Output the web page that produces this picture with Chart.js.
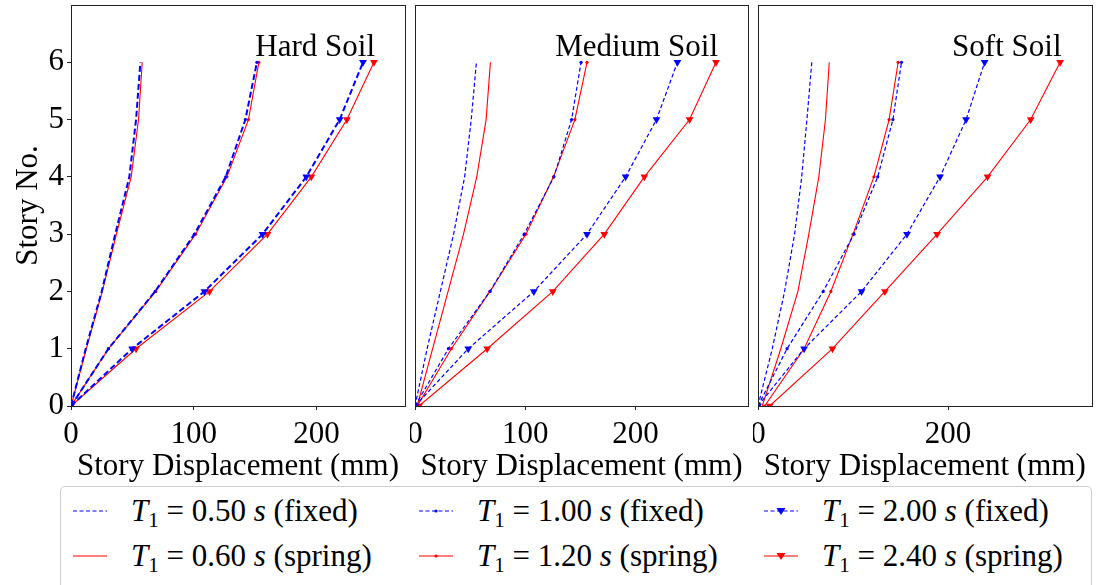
<!DOCTYPE html>
<html>
<head>
<meta charset="utf-8">
<script src="https://cdn.jsdelivr.net/npm/chart.js@4.4.0/dist/chart.umd.min.js"></script>
<style>
  body { margin: 0; background: #fff; }
  #wrap { position: relative; width: 1096px; height: 585px; overflow: hidden; font-family: "Liberation Serif", serif; color: #000; }
  #wrap canvas { position: absolute; top: 0; }
  #legend { position: absolute; left: 60px; top: 486px; width: 1030px; height: 120px; border: 1px solid #cfcfcf; border-radius: 5px; }
  .item { position: absolute; font-size: 31px; line-height: 30px; white-space: nowrap; }
  .item svg { position: absolute; top: 0; }
  .item span { position: absolute; top: 0; }
  sub { font-size: 21px; vertical-align: -6px; line-height: 0; }
</style>
</head>
<body>
<div id="wrap">
  <canvas id="hard"></canvas>
  <canvas id="medium"></canvas>
  <canvas id="soft"></canvas>
  <div id="legend"></div>
</div>
<script>
// story levels (y values)
const stories = [0, 1, 2, 3, 4, 5, 6];
const yTicks = [0, 1, 2, 3, 4, 5, 6];

// story displacement (mm), hard soil
const hardFixed050  = [0, 12, 25, 36, 47.5, 53, 56.5];
const hardSpring060 = [0, 12.5, 25.5, 37, 49, 55, 58];
const hardFixed100  = [0, 30.5, 68.5, 100.5, 126, 142, 151.4];
const hardSpring120 = [0, 30.5, 69, 101.5, 127, 144.5, 153];
const hardFixed200  = [0, 49.8, 108.7, 156, 191.6, 218.8, 237.8];
const hardSpring240 = [0, 53, 112.8, 160, 195.7, 224.7, 246.7];

// medium soil
const medFixed050  = [0, 11, 23, 35, 45, 51, 55.7];
const medSpring060 = [2, 16, 30, 44, 56, 64.5, 68.4];
const medFixed100  = [0, 30.3, 68, 99, 126, 142, 150.6];
const medSpring120 = [2, 33, 68, 100.6, 125.6, 145, 156];
const medFixed200  = [0, 48.3, 107.8, 156, 191, 219, 238];
const medSpring240 = [3.6, 65.5, 125, 171.7, 208, 249, 273];

// soft soil
const softFixed050  = [0, 15, 28, 38.5, 46, 51.5, 56.6];
const softSpring060 = [4.5, 24, 42, 53.5, 64, 71, 75];
const softFixed100  = [0, 30.6, 68.6, 101, 126, 142, 151];
const softSpring120 = [7, 48.5, 76.7, 100, 122, 138, 147.5];
const softFixed200  = [0, 48.5, 109, 156.8, 191.6, 219, 238.5];
const softSpring240 = [12.3, 78.4, 133.6, 188.5, 241.6, 287, 318];

// x ticks per panel
const hardXTicks = [0, 100, 200];
const medXTicks  = [0, 100, 200];
const softXTicks = [0, 200];

const seriesLabels = ['0.50 s (fixed)', '0.60 s (spring)', '1.00 s (fixed)', '1.20 s (spring)', '2.00 s (fixed)', '2.40 s (spring)'];

const BLUE = '#0000ff';
const RED = '#ff0000';
const FONT = '"Liberation Serif", serif';

const xy = vals => vals.map((v, i) => ({ x: v, y: stories[i] }));

// line/marker style per series slot
function styleFor(i, thick) {
  const fixed = i % 2 === 0;
  const s = {
    borderColor: fixed ? BLUE : RED,
    backgroundColor: fixed ? BLUE : RED,
    borderWidth: fixed ? (thick ? 2 : 1.2) : 1.1,
    borderDash: fixed ? (thick ? [6, 3] : [4, 2.5]) : [],
    tension: 0,
    pointRadius: 0,
    pointHoverRadius: 0,
    pointBorderWidth: 0
  };
  if (i === 2 || i === 3) { s.pointRadius = 1.6; s.pointStyle = 'circle'; }
  if (i === 4 || i === 5) { s.pointRadius = 4.5; s.pointStyle = 'triangle'; s.pointRotation = 180; }
  return s;
}

// frame + panel title
const framePlugin = {
  id: 'frame',
  afterDatasetsDraw(chart, args, opts) {
    const { ctx, chartArea: a } = chart;
    ctx.save();
    ctx.strokeStyle = '#222';
    ctx.lineWidth = 1;
    ctx.strokeRect(Math.round(a.left) + 0.5, Math.round(a.top) + 0.5, Math.round(a.right - a.left), Math.round(a.bottom - a.top));
    ctx.fillStyle = '#000';
    ctx.font = '31px ' + FONT;
    ctx.textAlign = 'right';
    ctx.textBaseline = 'alphabetic';
    ctx.fillText(opts.text, a.right - 30, 56);
    ctx.restore();
  }
};

function makePanel(id, left, width, title, series, xMax, xTicks, showY, pad) {
  const el = document.getElementById(id);
  el.style.left = left + 'px';
  el.width = width; el.height = 485;
  el.style.width = width + 'px'; el.style.height = '485px';
  const datasets = series.map((vals, i) => Object.assign({ label: seriesLabels[i], data: xy(vals) }, styleFor(i, id === 'hard')));
  // fixed-base curves sit on top of the spring curves
  datasets.forEach((d, i) => { d.order = i % 2 === 0 ? 0 : 1; });
  return new Chart(el, {
    type: 'line',
    data: { datasets },
    plugins: [framePlugin],
    options: {
      responsive: false,
      animation: false,
      layout: { padding: pad },
      plugins: { legend: { display: false }, tooltip: { enabled: false }, frame: { text: title } },
      scales: {
        x: {
          type: 'linear', min: 0, max: xMax,
          afterBuildTicks: s => { s.ticks = xTicks.map(v => ({ value: v })); },
          afterFit: s => { s.height = 79; s.paddingLeft = 0; s.paddingRight = 0; },
          border: { display: false },
          grid: { display: true, drawOnChartArea: false, drawTicks: true, tickLength: 4, color: '#222' },
          ticks: { color: '#000', font: { family: FONT, size: 31 }, padding: 6, maxRotation: 0 },
          title: { display: true, text: 'Story Displacement (mm)', color: '#000', font: { family: FONT, size: 31 }, padding: { top: 2, bottom: 0 } }
        },
        y: {
          type: 'linear', min: 0, max: 7, display: showY,
          afterBuildTicks: s => { s.ticks = yTicks.map(v => ({ value: v })); },
          afterFit: s => { s.width = showY ? 71 : 0; s.paddingTop = 0; s.paddingBottom = 0; },
          border: { display: false },
          grid: { display: true, drawOnChartArea: false, drawTicks: true, tickLength: 4, color: '#222' },
          ticks: { color: '#000', font: { family: FONT, size: 31 }, padding: 3 },
          title: { display: true, text: 'Story No.', color: '#000', font: { family: FONT, size: 31 }, padding: { top: 10, bottom: 0 } }
        }
      }
    }
  });
}

makePanel('hard', 0, 410, 'Hard Soil',
  [hardFixed050, hardSpring060, hardFixed100, hardSpring120, hardFixed200, hardSpring240],
  272, hardXTicks, true, { top: 5, right: 5, left: 0, bottom: 0 });
makePanel('medium', 410, 343, 'Medium Soil',
  [medFixed050, medSpring060, medFixed100, medSpring120, medFixed200, medSpring240],
  302, medXTicks, false, { top: 5, right: 5, left: 5, bottom: 0 });
makePanel('soft', 753, 343, 'Soft Soil',
  [softFixed050, softSpring060, softFixed100, softSpring120, softFixed200, softSpring240],
  351, softXTicks, false, { top: 5, right: 4, left: 5, bottom: 0 });

// legend: three columns, fixed on top row, spring below
const legendCols = [12, 358, 703];
const legendRows = [9, 54];
const legend = document.getElementById('legend');
seriesLabels.forEach((lab, i) => {
  const col = Math.floor(i / 2), row = i % 2;
  const st = styleFor(i, false);
  const div = document.createElement('div');
  div.className = 'item';
  div.style.left = legendCols[col] + 'px';
  div.style.top = legendRows[row] + 'px';
  let marker = '';
  if (st.pointStyle === 'circle') marker = `<circle cx="17" cy="15" r="1.6" fill="${st.borderColor}"/>`;
  if (st.pointStyle === 'triangle') marker = `<polygon points="12.5,12 21.5,12 17,19" fill="${st.borderColor}"/>`;
  const dash = st.borderDash.length ? `stroke-dasharray="${st.borderDash.join(',')}"` : '';
  const parts = lab.split(' s ');
  div.innerHTML = `<svg width="36" height="30"><line x1="0" y1="15" x2="34" y2="15" stroke="${st.borderColor}" stroke-width="${st.borderWidth}" ${dash}/>${marker}</svg>` +
    `<span style="left:58px"><i>T</i><sub>1</sub> = ${parts[0]} <i>s</i> ${parts[1]}</span>`;
  legend.appendChild(div);
});
</script>
</body>
</html>
